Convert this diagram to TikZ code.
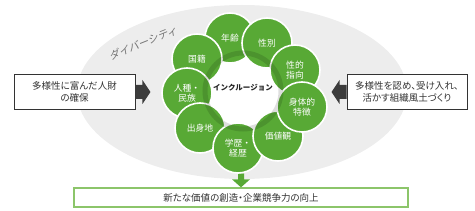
\documentclass[tikz,border=0pt]{standalone}
\usepackage{fontspec}
\setmainfont{Noto Sans CJK JP}
\newfontfamily\jpslant[FakeSlant=0.22]{Noto Sans CJK JP}
\newfontfamily\jpp[RawFeature=+palt]{Noto Sans CJK JP}
\definecolor{cgreen}{HTML}{58A935}
\definecolor{ellgray}{HTML}{EDEDED}
\definecolor{lgreen}{HTML}{8CC56A}
\definecolor{darr}{HTML}{3C3C3C}
\definecolor{txt}{HTML}{333333}
\tikzset{
  gcirc/.style={circle, fill=cgreen, draw=white, line width=1.6pt, minimum size=50pt,
    inner sep=0pt, text=white, align=center, font=\fontsize{8.8}{10.5}\selectfont},
  sidebox/.style={draw=txt, line width=0.9pt, fill=white, minimum height=35pt,
    align=center, text=txt, font=\jpp\fontsize{9.5}{12.5}\selectfont, inner sep=0pt},
}
\begin{document}
\begin{tikzpicture}[x=1pt,y=-1pt]
\useasboundingbox (0,0) rectangle (475,211);
% diversity ellipse
\fill[ellgray] (242,92) ellipse [x radius=165, y radius=87];
\node[rotate=22, text=black!55, font=\jpslant\fontsize{10.5}{12}\selectfont] (div) at (143,43) {ダイバーシティ};
% white centre
\fill[white] (244,92) circle (42);
% bottom arrow
\node[draw=lgreen, line width=1.3pt, fill=white, minimum width=334pt, minimum height=19pt,
  inner sep=0pt, text=txt, font=\jpp\fontsize{9.5}{11}\selectfont] (bbox) at (241,197.5) {新たな価値の創造・企業競争力の向上};
\fill[cgreen] (bbox.north) -- ++(-9,-8) -- ++(6,0) -- ++(0,-6) -- ++(6,0) -- ++(0,6) -- ++(6,0) -- cycle;
% circles
\node[gcirc] (age) at (230,38) {年齢};
\node[gcirc] (sex) at (267,43) {性別};
\node[gcirc] (orient) at (295,70) {性的\\指向};
\node[gcirc] (nation) at (197,59) {国籍};
\node[gcirc] (race) at (187,93) {人種・\\民族};
\node[gcirc] (origin) at (200,128) {出身地};
\node[gcirc] (edu) at (238,148) {学歴・\\経歴};
\node[gcirc] (values) at (278,136) {価値観};
\node[gcirc] (body) at (302,107) {身体的\\特徴};
% shadow ring
\draw[black, opacity=0.13, line width=5pt] (243,91) circle (38);
\node[text=black!85, font=\bfseries\fontsize{7.5}{9}\selectfont] (incl) at (243,88) {インクルージョン};
% side boxes
\node[sidebox, minimum width=121pt] (lbox) at (74.5,92) {多様性に富んだ人財\\の確保};
\node[sidebox, minimum width=120pt] (rbox) at (407,92) {多様性を認め、受け入れ、\\活かす組織風土づくり};
\fill[darr] (lbox.east) ++(0,-7) -- ++(7,0) -- ++(0,-5) -- ++(8,12) -- ++(-8,12) -- ++(0,-5) -- ++(-7,0) -- cycle;
\fill[darr] (rbox.west) ++(0,-7) -- ++(-7,0) -- ++(0,-5) -- ++(-8,12) -- ++(8,12) -- ++(0,-5) -- ++(7,0) -- cycle;
\end{tikzpicture}
\end{document}
